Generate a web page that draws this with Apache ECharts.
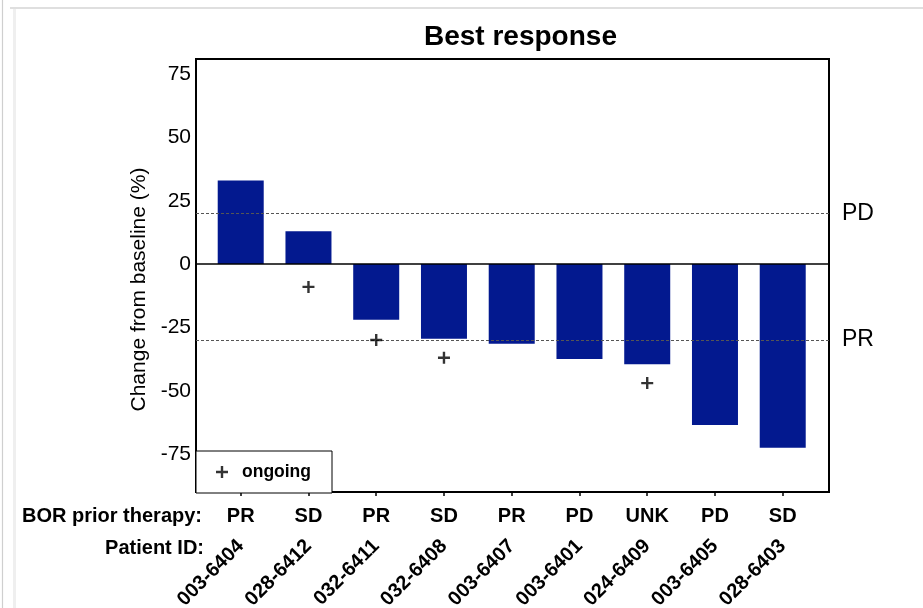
<!DOCTYPE html>
<html>
<head>
<meta charset="utf-8">
<title>Best response</title>
<script src="https://cdn.jsdelivr.net/npm/echarts@6/dist/echarts.min.js"></script>
<style>
  html, body { margin: 0; padding: 0; background: #fff; }
  #chart { width: 923px; height: 608px; }
</style>
</head>
<body>
<div id="chart"></div>
<script>
// Patients in plotted order (sorted by best change from baseline)
const patientIds = ['003-6404', '028-6412', '032-6411', '032-6408', '003-6407', '003-6401', '024-6409', '003-6405', '028-6403'];
// Best overall response on prior therapy
const borPrior = ['PR', 'SD', 'PR', 'SD', 'PR', 'PD', 'UNK', 'PD', 'SD'];
// Best change from baseline in tumour size (%)
const bestChange = [33, 13, -22, -29.5, -31.5, -37.5, -39.5, -63.5, -72.5];
// Position of the "ongoing" marker for patients still on treatment (null = not ongoing)
const ongoingMarks = [null, -9, -30, -37, null, null, -47, null, null];
// Y-axis tick labels
const yTicks = [-75, -50, -25, 0, 25, 50, 75];
// Response thresholds
const thresholdNames = ['PD', 'PR'];
const thresholdValues = [20, -30];

const FONT = '"Liberation Sans", Arial, Helvetica, sans-serif';
const BAR_COLOR = '#03198f';
const PLUS = 'path://M4.8,0h2.4v4.8h4.8v2.4h-4.8v4.8h-2.4v-4.8h-4.8v-2.4h4.8z';

// Patients sit at integer positions; the frame leaves a little room either side
const slots = patientIds.map((_, i) => i);
const X_MIN = -0.66;
const X_MAX = 8.683;

const chart = echarts.init(document.getElementById('chart'), null, { renderer: 'canvas' });

const option = {
  backgroundColor: '#ffffff',
  animation: false,
  textStyle: { fontFamily: FONT, color: '#000' },
  title: {
    text: 'Best response',
    left: 424,
    top: 23,
    padding: 0,
    textStyle: { fontFamily: FONT, fontSize: 28, fontWeight: 'bold', color: '#000' }
  },
  grid: {
    left: 196, right: 94, top: 59, bottom: 116,
    outerBoundsMode: 'none',
    containLabel: false,
    show: true, borderColor: '#000', borderWidth: 2, backgroundColor: 'transparent'
  },
  legend: {
    data: ['ongoing'],
    left: 196, top: 451,
    orient: 'horizontal',
    itemWidth: 12, itemHeight: 12,
    padding: [12, 21, 12, 20],
    borderColor: '#000', borderWidth: 1, backgroundColor: '#fff',
    selectedMode: false,
    textStyle: { fontFamily: FONT, fontSize: 17.5, fontWeight: 'bold', color: '#000', padding: [0, 0, 0, 9] }
  },
  xAxis: [
    {
      type: 'value',
      min: X_MIN, max: X_MAX,
      position: 'bottom',
      axisLine: { show: true, onZero: false, lineStyle: { color: '#000', width: 2 } },
      axisTick: { show: true, customValues: slots, length: 4, lineStyle: { color: '#000', width: 1.5 } },
      axisLabel: {
        customValues: slots,
        formatter: v => borPrior[Math.round(v)],
        margin: 14, fontFamily: FONT, fontSize: 20, fontWeight: 'bold', color: '#000'
      },
      splitLine: { show: false }
    },
    {
      type: 'value',
      min: X_MIN, max: X_MAX,
      position: 'bottom',
      offset: 0,
      axisLine: { show: false, onZero: false },
      axisTick: { show: false },
      axisLabel: {
        customValues: slots,
        formatter: v => patientIds[Math.round(v)],
        rotate: 45, margin: 51, fontFamily: FONT, fontSize: 20, fontWeight: 'bold', color: '#000'
      },
      splitLine: { show: false }
    }
  ],
  yAxis: {
    type: 'value',
    min: -90,
    max: 81,
    name: 'Change from baseline (%)',
    nameLocation: 'middle',
    nameGap: 45,
    nameTextStyle: { fontFamily: FONT, fontSize: 21, color: '#000', padding: [0, 28, 0, 0] },
    axisLine: { show: false },
    axisTick: { show: false },
    splitLine: { show: false },
    axisLabel: {
      customValues: yTicks,
      margin: 5,
      fontFamily: FONT, fontSize: 21, color: '#000'
    }
  },
  series: [
    {
      name: 'Best change',
      type: 'bar',
      xAxisIndex: 0,
      data: bestChange.map((v, i) => [i, v]),
      barWidth: 46,
      itemStyle: { color: BAR_COLOR },
      markLine: {
        silent: true,
        symbol: ['none', 'none'],
        data: [
          { yAxis: 0, lineStyle: { type: 'solid', color: '#000', width: 1.5 }, label: { show: false } },
          ...thresholdNames.map((n, i) => ({
            name: n,
            yAxis: thresholdValues[i],
            lineStyle: { type: [3, 2], color: '#555', width: 1 },
            label: { show: true, position: 'end', distance: 13, formatter: n, fontFamily: FONT, fontSize: 23, color: '#000' }
          }))
        ]
      }
    },
    {
      name: 'ongoing',
      type: 'scatter',
      xAxisIndex: 0,
      data: ongoingMarks.map((v, i) => (v === null ? null : [i, v])).filter(d => d !== null),
      symbol: PLUS,
      symbolSize: 12,
      itemStyle: { color: '#000' },
      z: 5
    }
  ],
  graphic: [
    // page frame
    { type: 'line', shape: { x1: 10, y1: 8, x2: 923, y2: 8 }, style: { stroke: '#d4d4d4', lineWidth: 1.5 }, silent: true },
    { type: 'line', shape: { x1: 2.5, y1: 0, x2: 2.5, y2: 608 }, style: { stroke: '#cfcfcf', lineWidth: 1.2 }, silent: true },
    { type: 'rect', shape: { x: 13, y: 9, width: 3, height: 599 }, style: { fill: '#efefef' }, silent: true },
    // row titles under the axis
    {
      type: 'text', right: 923 - 202, top: 506,
      style: { text: 'BOR prior therapy:', font: 'bold 20px ' + FONT, fill: '#000', textAlign: 'right' }
    },
    {
      type: 'text', right: 923 - 204, top: 538,
      style: { text: 'Patient ID:', font: 'bold 20px ' + FONT, fill: '#000', textAlign: 'right' }
    }
  ]
};

chart.setOption(option);
</script>
</body>
</html>
